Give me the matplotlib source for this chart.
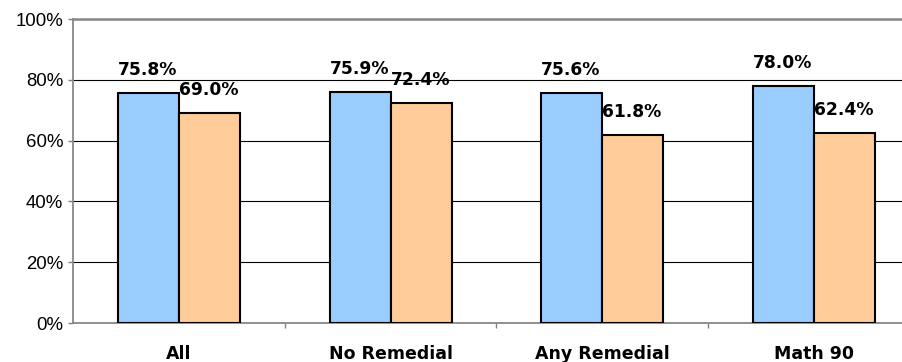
import matplotlib
matplotlib.use("Agg")
import matplotlib.pyplot as plt
import numpy as np

categories = ["All", "No Remedial", "Any Remedial", "Math 90"]
series_a = [75.8, 75.9, 75.6, 78.0]
series_b = [69.0, 72.4, 61.8, 62.4]
yticks = [0, 20, 40, 60, 80, 100]
ytick_labels = ["0%", "20%", "40%", "60%", "80%", "100%"]

fig = plt.figure(figsize=(9.03, 3.62), dpi=100)
ax = fig.add_axes([73 / 903, 39 / 362, 4 * 211.7 / 903, 304 / 362])

x = np.arange(len(categories))
w = 0.288
bars_a = ax.bar(x - w / 2, series_a, w, color="#99CCFF", edgecolor="black", linewidth=1.5, zorder=3)
bars_b = ax.bar(x + w / 2, series_b, w, color="#FFCC99", edgecolor="black", linewidth=1.5, zorder=3)

for bars, vals in ((bars_a, series_a), (bars_b, series_b)):
    for b, v in zip(bars, vals):
        ax.annotate(f"{v:.1f}%", xy=(b.get_x(), v), xytext=(0, 13), textcoords="offset points",
                    ha="left", va="baseline", fontsize=12.3, fontweight="bold",
                    family="DejaVu Sans", color="black", zorder=5, annotation_clip=False)

ax.set_xlim(-0.5, len(categories) - 0.5)
ax.set_ylim(0, 100)
ax.set_yticks(yticks)
ax.set_yticklabels(ytick_labels, fontsize=13.4, family="Liberation Sans")
ax.yaxis.grid(True, color="black", linewidth=0.8, zorder=1)
ax.set_axisbelow(True)

ax.set_xticks(x)
ax.set_xticklabels(categories, fontsize=12.5, fontweight="bold", family="DejaVu Sans")
ax.set_xticks(np.arange(len(categories) - 1) + 0.5, minor=True)
ax.tick_params(axis="x", which="major", length=0, pad=15.5)
ax.tick_params(axis="x", which="minor", length=3.6, width=1, color="#808080", direction="out")
ax.tick_params(axis="y", length=3.6, width=1, color="#808080", direction="out", pad=3.5)

for side in ("left", "bottom", "top"):
    ax.spines[side].set_color("#888888")
    ax.spines[side].set_linewidth(1.3)
ax.spines["top"].set_linewidth(1.8)
ax.spines["right"].set_visible(False)

fig.savefig("out.png", dpi=100)
